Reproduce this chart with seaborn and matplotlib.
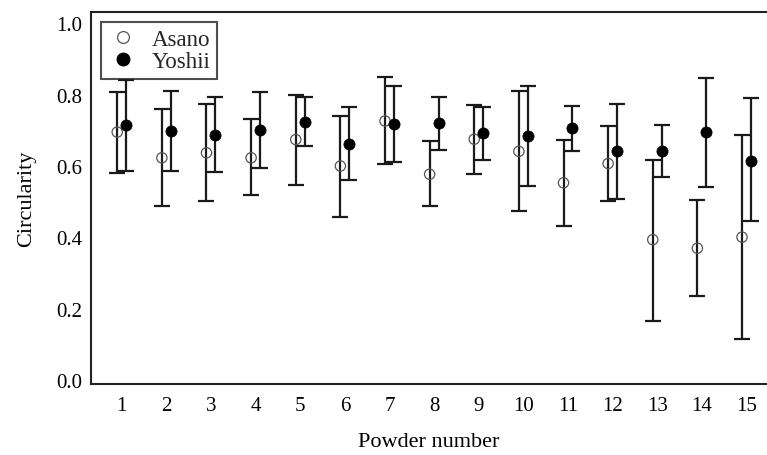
import numpy as np
import pandas as pd
import matplotlib
matplotlib.use("Agg")
import matplotlib.pyplot as plt
import seaborn as sns
from matplotlib.lines import Line2D

# ---- data ----
powder = [1, 2, 3, 4, 5, 6, 7, 8, 9, 10, 11, 12, 13, 14, 15]
tick_labels = [str(p) for p in powder]

asano_mean = [0.695, 0.623, 0.637, 0.623, 0.674, 0.600, 0.726, 0.577, 0.675, 0.641, 0.553, 0.607, 0.394, 0.370, 0.401]
asano_high = [0.806, 0.760, 0.774, 0.731, 0.799, 0.740, 0.849, 0.670, 0.771, 0.809, 0.672, 0.712, 0.618, 0.505, 0.687]
asano_low  = [0.581, 0.487, 0.501, 0.520, 0.548, 0.458, 0.607, 0.487, 0.578, 0.473, 0.433, 0.502, 0.167, 0.236, 0.115]

yoshii_mean = [0.715, 0.698, 0.688, 0.701, 0.724, 0.663, 0.718, 0.720, 0.693, 0.685, 0.706, 0.642, 0.642, 0.694, 0.615]
yoshii_high = [0.842, 0.811, 0.794, 0.806, 0.794, 0.765, 0.825, 0.794, 0.766, 0.825, 0.768, 0.774, 0.714, 0.847, 0.789]
yoshii_low  = [0.587, 0.586, 0.584, 0.594, 0.656, 0.561, 0.611, 0.646, 0.618, 0.544, 0.643, 0.508, 0.570, 0.541, 0.445]

y_ticks = [0.0, 0.2, 0.4, 0.6, 0.8, 1.0]

sns.set_theme(style="white")
plt.rcParams["font.family"] = ["Liberation Serif", "DejaVu Serif"]

fig = plt.figure(figsize=(7.67, 4.56), dpi=100)
ax = fig.add_axes([91 / 767, 1 - 385 / 456, 1 - 91 / 767, (385 - 13) / 456])

x = np.array(powder, dtype=float)
off = 0.1
df_a = pd.DataFrame({"x": x - off, "y": asano_mean})
df_y = pd.DataFrame({"x": x + off, "y": yoshii_mean})

ecol = "#1a1a1a"
ax.errorbar(df_a["x"], asano_mean,
            yerr=[np.array(asano_mean) - np.array(asano_low), np.array(asano_high) - np.array(asano_mean)],
            fmt="none", ecolor=ecol, elinewidth=1.6, capsize=5.5, capthick=1.6, zorder=2)
ax.errorbar(df_y["x"], yoshii_mean,
            yerr=[np.array(yoshii_mean) - np.array(yoshii_low), np.array(yoshii_high) - np.array(yoshii_mean)],
            fmt="none", ecolor=ecol, elinewidth=1.6, capsize=5.5, capthick=1.6, zorder=2)

sns.scatterplot(data=df_a, x="x", y="y", ax=ax, marker="o", s=55,
                facecolor="none", edgecolor="#555555", linewidth=0.9, zorder=3)
sns.scatterplot(data=df_y, x="x", y="y", ax=ax, marker="o", s=65,
                color="black", edgecolor="black", linewidth=0.5, zorder=3)

ax.set_xlim(0.312, 15.46)
ax.set_ylim(-0.01, 1.031)
ax.set_xticks(powder)
ax.set_xticklabels(tick_labels)
ax.set_yticks(y_ticks)
ax.set_yticklabels([f"{t:.1f}" for t in y_ticks])
ax.tick_params(axis="x", length=0, pad=9, labelsize=15, colors="black")
ax.tick_params(axis="y", length=0, pad=6, labelsize=15, colors="black")

ax.set_xlabel("Powder number", fontsize=16, labelpad=12, color="black")
ax.set_ylabel("Circularity", fontsize=16, labelpad=15, color="black")

for side in ["left", "bottom", "top"]:
    ax.spines[side].set_visible(True)
    ax.spines[side].set_linewidth(1.5)
    ax.spines[side].set_color("#222222")
ax.spines["right"].set_visible(False)

handles = [
    Line2D([], [], marker="o", linestyle="none", markersize=8.5, markerfacecolor="none",
           markeredgecolor="#555555", markeredgewidth=0.9, label="Asano"),
    Line2D([], [], marker="o", linestyle="none", markersize=9, markerfacecolor="black",
           markeredgecolor="black", label="Yoshii"),
]
leg = ax.legend(handles=handles, loc="upper left", bbox_to_anchor=(0.0, 1.0),
                frameon=True, fancybox=False, fontsize=16.5, handlelength=1.3,
                handletextpad=0.6, borderpad=0.3, labelspacing=0.05, borderaxespad=0.45)
leg.get_frame().set_edgecolor("#222222")
leg.get_frame().set_linewidth(1.5)

fig.savefig("out.png", dpi=100)
